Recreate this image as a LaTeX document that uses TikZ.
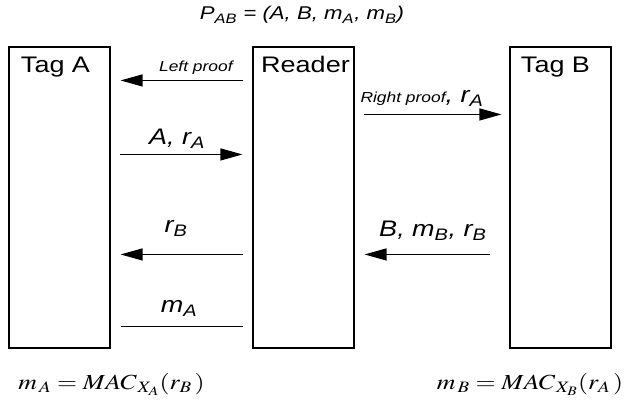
\documentclass[tikz,border=0pt]{standalone}
\usepackage{mathptmx}
\usepackage[no-math]{fontspec}
\setmainfont{Liberation Sans}
\usepackage{graphicx}
\usetikzlibrary{arrows.meta,calc,positioning}
\newcommand{\wide}[1]{\scalebox{1.2}[1]{#1}}
\newcommand{\sub}[1]{\textsubscript{#1}}

\begin{document}
\begin{tikzpicture}[x=1pt,y=-1pt,
  party/.style={draw,line width=1.1pt,minimum width=101pt,minimum height=301pt,inner sep=0pt},
  partyname/.style={font=\fontsize{22.5}{23}\selectfont,anchor=base,inner sep=0pt},
  msg/.style={-{Triangle[length=22pt,width=12pt]},line width=1.2pt},
  plain/.style={line width=1.2pt},
  biglbl/.style={font=\fontsize{22.5}{23}\selectfont\itshape,anchor=base,inner sep=0pt},
  smalllbl/.style={font=\fontsize{14.5}{15}\selectfont\itshape,anchor=base,inner sep=0pt}]
\useasboundingbox (0,0) rectangle (631,404);
% the three parties
\node[party] (tagA) at (59.5,197.5) {};
\node[party] (reader) at (303.5,197.5) {};
\node[party] (tagB) at (560.5,197.5) {};
\node[partyname] (tagAname) at ($(tagA.north)+(-4,26)$) {\wide{Tag A}};
\node[partyname] (readername) at ($(reader.north)+(2,26)$) {\wide{Reader}};
\node[partyname] (tagBname) at ($(tagB.north)+(-5,26)$) {\wide{Tag B}};
% messages
\draw[msg] ($(reader.north west)+(-9,34)$) -- ($(tagA.north east)+(10,34)$)
  node[smalllbl,pos=0.387,yshift=9pt] (leftlbl) {\wide{Left proof}};
\draw[msg] ($(tagA.north east)+(9,108)$) -- ($(reader.north west)+(-10,108)$)
  node[biglbl,pos=0.468,yshift=10pt] (arAlbl) {\wide{A, r\sub{A}}};
\draw[msg] ($(reader.north east)+(9,68)$) -- ($(tagB.north west)+(-8,68)$)
  node[biglbl,pos=0.424,yshift=12pt] (rightlbl) {\wide{{\fontsize{14.5}{15}\selectfont Right proof},\ r\sub{A}}};
\draw[msg] ($(reader.north west)+(-9,208)$) -- ($(tagA.north east)+(10,208)$)
  node[biglbl,pos=0.548,yshift=22pt] (rBlbl) {\wide{r\sub{B}}};
\draw[plain] ($(tagA.north east)+(10,280)$) -- ($(reader.north west)+(-9,280)$)
  node[biglbl,pos=0.476,yshift=14pt] (mAlbl) {\wide{m\sub{A}}};
\draw[msg] ($(tagB.north west)+(-19,208)$) -- ($(reader.north east)+(10,208)$)
  node[biglbl,pos=0.457,yshift=18pt] (BmBlbl) {\wide{B, m\sub{B}, r\sub{B}}};
% pair and MACs
\node[font=\fontsize{18.5}{19}\selectfont\itshape,anchor=base] (pair) at (302,20) {\wide{P\sub{AB} = (A, B, m\sub{A}, m\sub{B})}};
\node[font=\fontsize{21.5}{22}\selectfont,anchor=base] (macA) at (111.5,389) {\wide{$m_{\,A} = MAC_{\,X_{A}}(r_{B}\,)$}};
\node[font=\fontsize{21.5}{22}\selectfont,anchor=base] (macB) at (530,389) {\wide{$m_{\,B} = MAC_{\,X_{B}}(r_{A}\,)$}};
\end{tikzpicture}
\end{document}
